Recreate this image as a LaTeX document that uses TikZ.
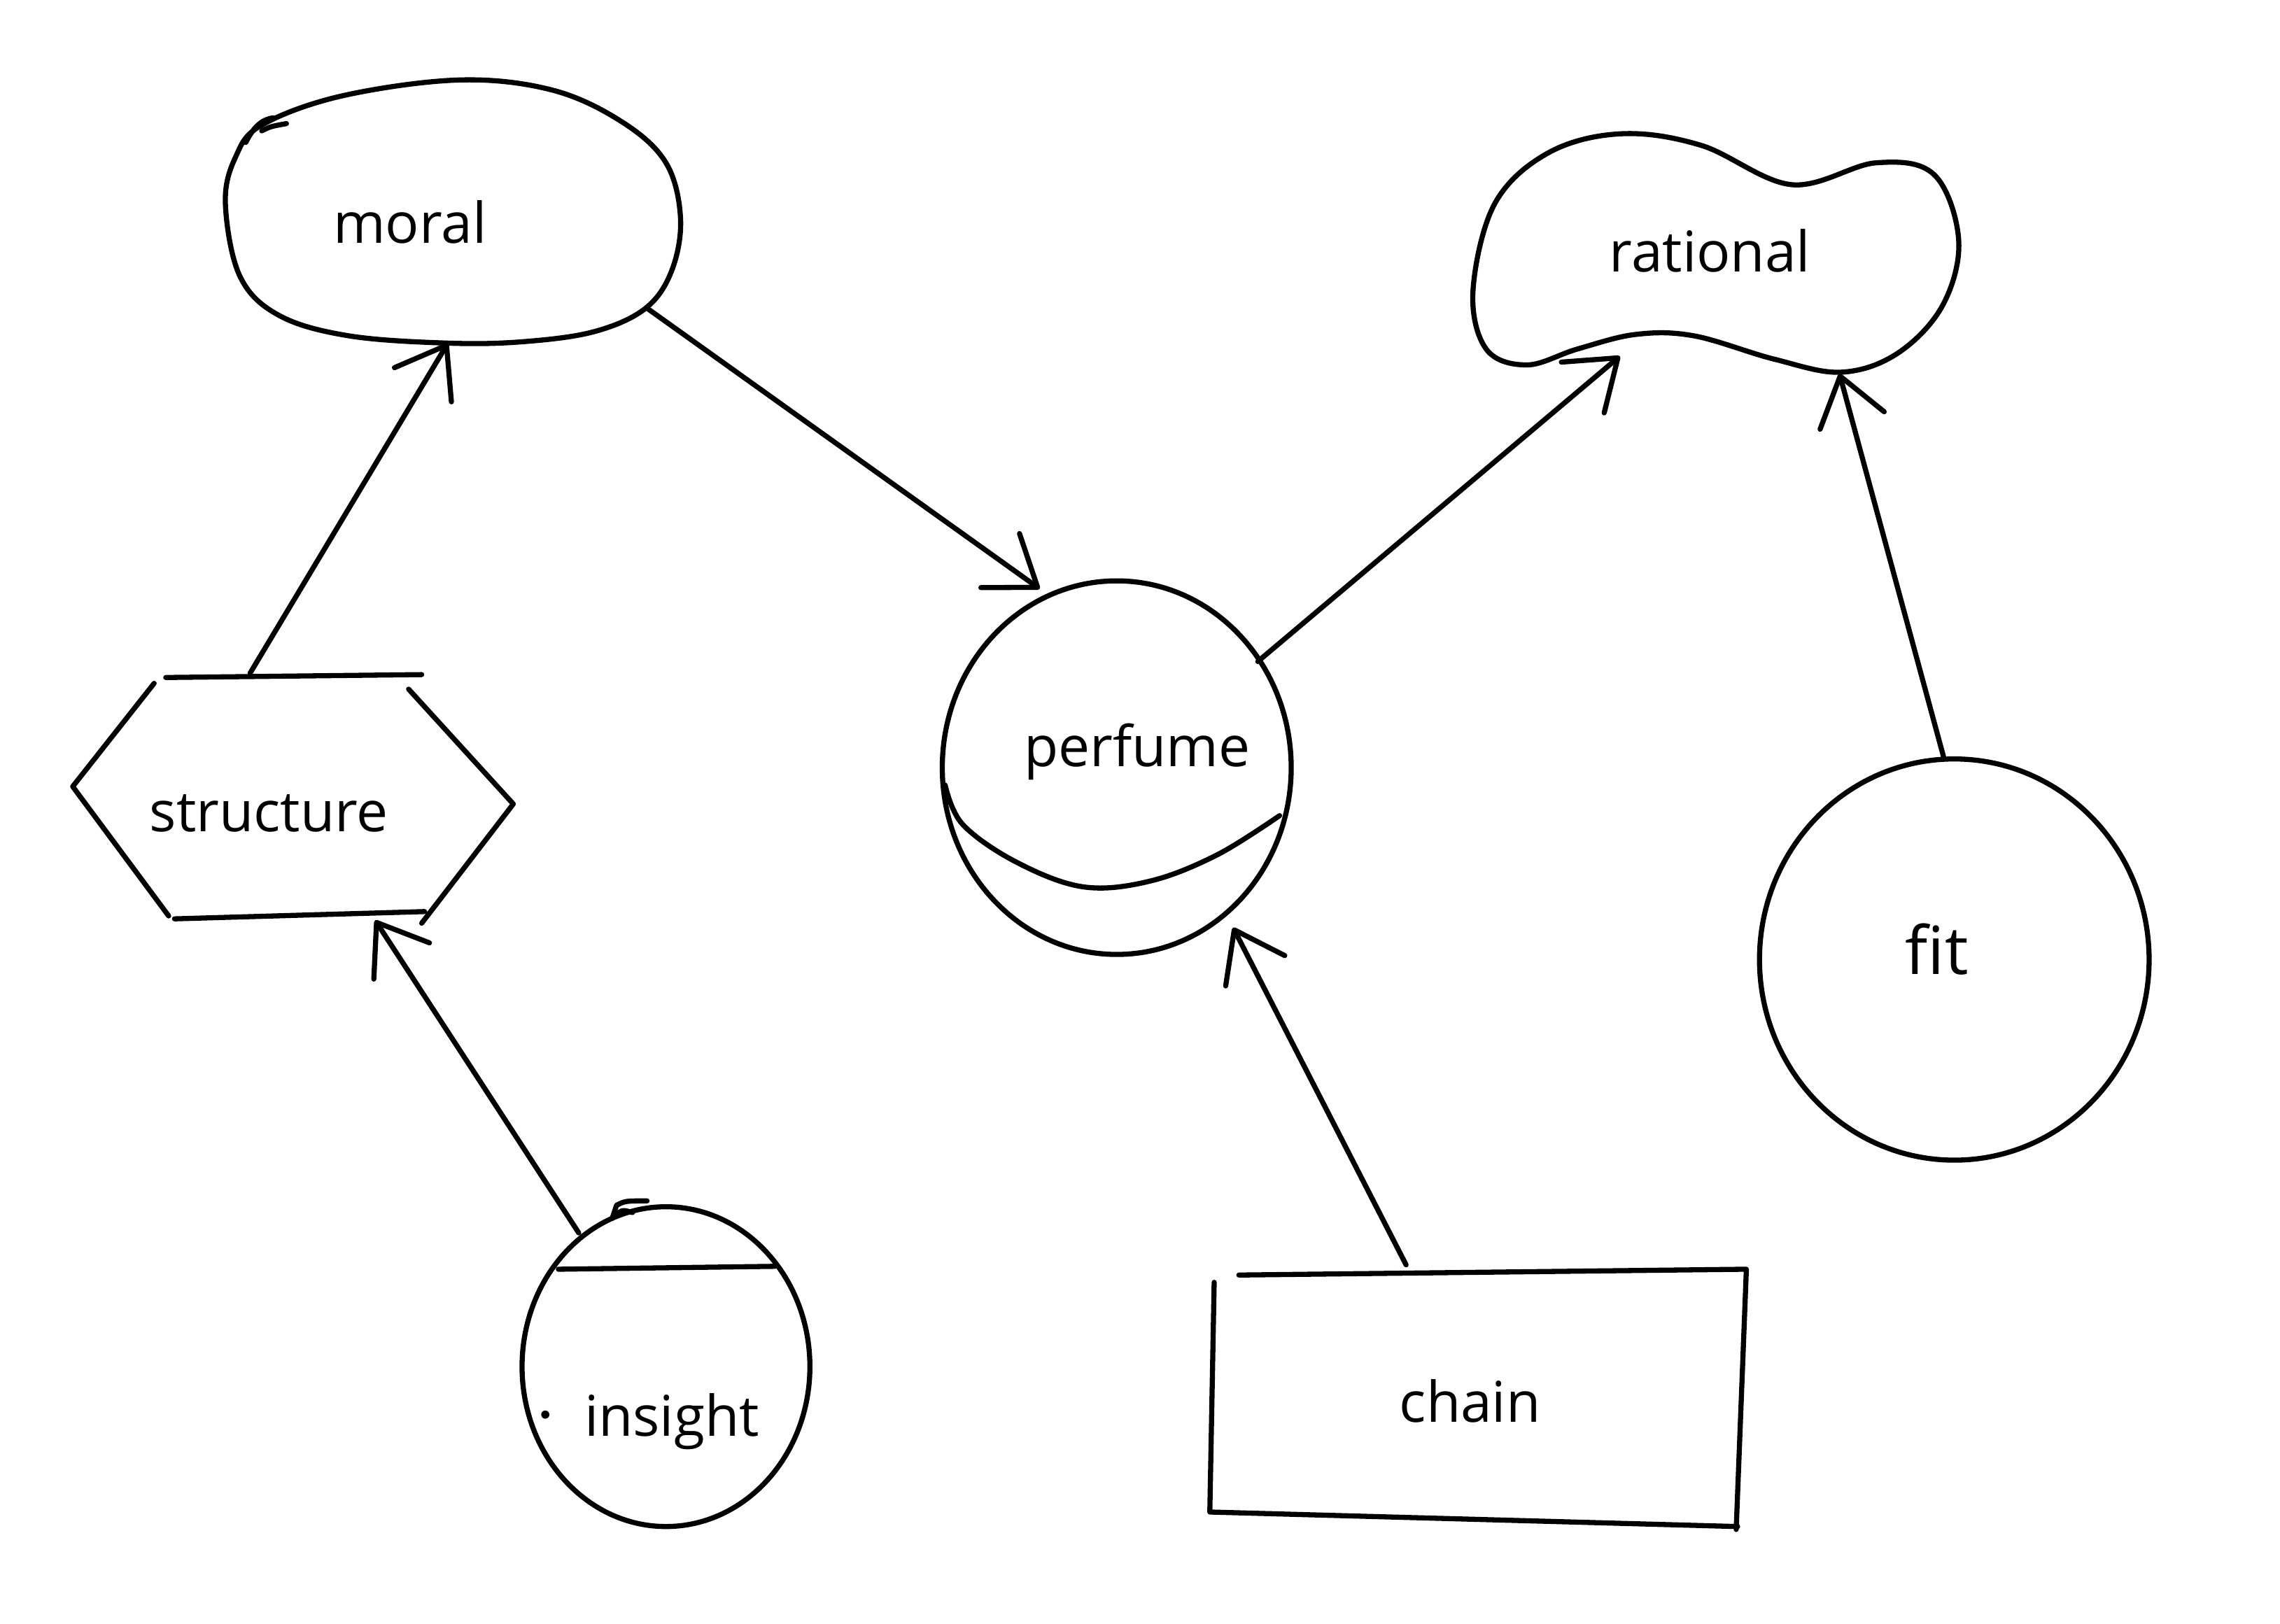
\documentclass[tikz,border=0pt]{standalone}
\usepackage{fontspec}
\setmainfont{Open Sans}
\usetikzlibrary{arrows.meta,shapes.geometric,calc}
\begin{document}
\begin{tikzpicture}[x=0.02cm,y=-0.02cm, line width=2pt, line cap=round, line join=round,
  lbl/.style={font=\fontsize{22}{26}\selectfont, anchor=base, inner sep=0pt},
  holder/.style={draw=none, inner sep=0pt},
  conn/.style={-{Straight Barb[round,length=18pt,width=26pt]}}
]
\useasboundingbox[fill=white] (0,0) rectangle (1568,1117);

% ---- moral (blob)
\node[holder, ellipse, minimum width=6.28cm, minimum height=3.6cm] (moral) at (311,146) {};
\draw plot[smooth cycle, tension=0.6] coordinates {(155,140) (162,108) (180,86) (235,66) (316,55) (380,62) (428,84) (458,112) (468,150) (462,186) (444,212) (409,228) (360,235) (308,236) (240,231) (192,217) (165,190)};
\draw (169,98) .. controls (175,86) and (181,82) .. (188,81);
\draw (180,90) .. controls (186,87) .. (197,85);
\node[lbl] (moraltext) at (282,167) {moral};

% ---- rational (peanut)
\node[holder, ellipse, minimum width=6.68cm, minimum height=3.4cm] (rational) at (1180,172) {};
\draw plot[smooth cycle, tension=0.6] coordinates {(1013,200) (1028,140) (1065,105) (1115,92) (1170,100) (1232,127) (1290,112) (1330,120) (1347,165) (1336,210) (1305,243) (1266,256) (1220,247) (1165,231) (1125,230) (1085,240) (1050,251) (1022,240)};
\node[lbl] (rationaltext) at (1176,187) {rational};

% ---- structure (hexagon)
\node[holder, rectangle, minimum width=6.06cm, minimum height=3.32cm] (structure) at (201,548) {};
\draw (114,466) -- (290,464);
\draw (106,470) -- (50,541) -- (116,630);
\draw (120,632) -- (292,627);
\draw (281,474) -- (353,553) -- (290,635);
\node[lbl] (structuretext) at (185,572) {structure};

% ---- perfume
\node[draw, ellipse, inner sep=0pt, minimum width=4.8cm, minimum height=5.14cm] (perfume) at (768,528) {};
\draw plot[smooth, tension=0.6] coordinates {(650,540) (662,567) (699,593) (745,610) (791,606) (837,588) (880,561)};
\node[lbl] (perfumetext) at (782,527) {perfume};

% ---- fit
\node[draw, ellipse, inner sep=0pt, minimum width=5.36cm, minimum height=5.52cm] (fit) at (1344,660) {};
\node[lbl, font=\fontsize{26}{30}\selectfont] (fittext) at (1332,670) {fit};

% ---- insight
\node[draw, ellipse, inner sep=0pt, minimum width=3.96cm, minimum height=4.4cm] (insight) at (458,940) {};
\draw (384,873) -- (533,871);
\draw (421,838) -- (424,829) .. controls (430,826) .. (445,826);
\draw (423,836) .. controls (428,832) .. (435,834);
\fill (375,973) circle (1.6pt);
\node[lbl] (insighttext) at (462,988) {insight};

% ---- chain
\node[holder, rectangle, minimum width=7.36cm, minimum height=3.44cm] (chain) at (1016,962) {};
\draw (852,877) -- (1201,873) -- (1194,1052);
\draw (1195,1050) -- (832,1040) -- (835,882);
\node[lbl] (chaintext) at (1011,978) {chain};

% ---- connectors
\draw[conn] ($(structure.center)+(-29,-85)$) -- ($(moral.center)+(-3,90)$);
\draw[conn] ($(moral.center)+(134,66)$) -- ($(perfume.center)+(-53,-123)$);
\draw[conn] ($(perfume.center)+(97,-73)$) -- ($(rational.center)+(-66,73)$);
\draw[conn] ($(fit.center)+(-7,-138)$) -- ($(rational.center)+(85,85)$);
\draw[conn] ($(insight.center)+(-60,-92)$) -- ($(structure.center)+(57,85)$);
\draw[conn] ($(chain.center)+(-49,-92)$) -- ($(perfume.center)+(80,110)$);
\end{tikzpicture}
\end{document}
